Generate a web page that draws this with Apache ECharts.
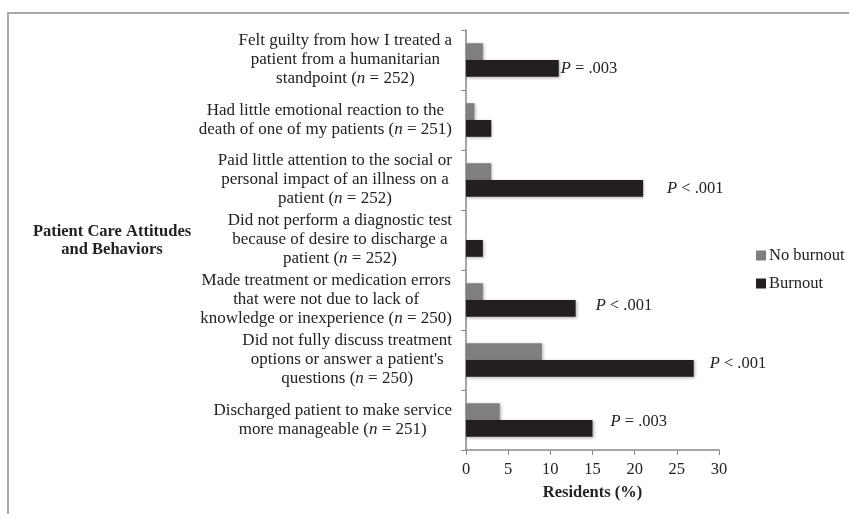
<!DOCTYPE html>
<html>
<head>
  <meta charset="UTF-8">
  <title>Patient care attitudes and behaviors</title>
  <script src="https://cdn.jsdelivr.net/npm/echarts@6/dist/echarts.min.js"></script>
  <style>
    * { margin: 0; padding: 0; }
    body { background: #fff; }
    #main { width: 849px; height: 514px; }
  </style>
</head>
<body>
  <div id="main"></div>
  <script>
    // categories, top to bottom (line breaks as in the original)
    var categories = [
      'Felt guilty from how I treated a\npatient from a humanitarian\nstandpoint (n = 252)',
      'Had little emotional reaction to the\ndeath of one of my patients (n = 251)',
      'Paid little attention to the social or\npersonal impact of an illness on a\npatient (n = 252)',
      'Did not perform a diagnostic test\nbecause of desire to discharge a\npatient (n = 252)',
      'Made treatment or medication errors\nthat were not due to lack of\nknowledge or inexperience (n = 250)',
      'Did not fully discuss treatment\noptions or answer a patient\'s\nquestions (n = 250)',
      'Discharged patient to make service\nmore manageable (n = 251)'
    ];
    var noBurnout = [2, 1, 3, 0, 2, 9, 4];
    var burnout = [11, 3, 21, 2, 13, 27, 15];
    var pValues = ['P = .003', '', 'P < .001', '', 'P < .001', 'P < .001', 'P = .003'];
    var xTicks = [0, 5, 10, 15, 20, 25, 30];

    // where the p-labels sit past the bar ends (px), style only
    var pGap = [2, 0, 24, 0, 20, 16, 18];
    var pLift = [0, 0, 0, 0, -3, -5, -7];

    var serif = '"Liberation Serif", "DejaVu Serif", serif';

    // each line centred inside a right-anchored block, n in italics
    function catLabel(v) {
      return v.split('\n').map(function (line) {
        return line.split(/(\(n = \d+\))/).filter(function (s) { return s !== ''; }).map(function (s) {
          var m = s.match(/^\(n = (\d+)\)$/);
          if (m) return '{c|(}{ci|n}{c| = ' + m[1] + ')}';
          return '{c|' + s + '}';
        }).join('');
      }).join('\n');
    }

    var burnoutData = burnout.map(function (v, i) {
      var p = pValues[i];
      return {
        value: v,
        label: {
          show: p !== '',
          distance: pGap[i],
          offset: [0, pLift[i]],
          formatter: p ? '{i|P}{t|' + p.slice(1) + '}' : ''
        }
      };
    });

    var chart = echarts.init(document.getElementById('main'));
    var option = {
      animation: false,
      backgroundColor: '#fff',
      color: ['#7f7f7f', '#231f20'],
      textStyle: { fontFamily: serif },
      grid: { left: 466, right: 130, top: 30, bottom: 64 },
      legend: {
        data: ['No burnout', 'Burnout'],
        orient: 'vertical',
        left: 751,
        top: 242,
        itemWidth: 10,
        itemHeight: 10,
        itemGap: 11,
        icon: 'rect',
        textStyle: { fontFamily: serif, fontSize: 16.5, color: '#222', padding: [0, 0, 0, -2] }
      },
      xAxis: {
        type: 'value',
        min: 0,
        max: 30,
        interval: 5,
        name: 'Residents (%)',
        nameLocation: 'middle',
        nameGap: 34,
        nameTextStyle: { fontFamily: serif, fontSize: 16.5, fontWeight: 'bold', color: '#222' },
        axisLine: { show: true, lineStyle: { color: '#888', width: 1.5 } },
        axisTick: { show: true, length: 5, lineStyle: { color: '#888' } },
        splitLine: { show: false },
        axisLabel: {
          margin: 11,
          fontFamily: serif,
          fontSize: 16.5,
          color: '#222',
          formatter: function (v) { return xTicks.indexOf(v) >= 0 ? String(v) : ''; }
        }
      },
      yAxis: {
        type: 'category',
        inverse: true,
        data: categories,
        axisLine: { show: true, lineStyle: { color: '#888', width: 1.5 } },
        axisTick: { show: true, length: 5, lineStyle: { color: '#888' } },
        axisLabel: {
          margin: 14,
          formatter: catLabel,
          lineHeight: 19,
          rich: {
            c: { align: 'center', fontFamily: serif, fontSize: 17, color: '#222', lineHeight: 19 },
            ci: { align: 'center', fontFamily: serif, fontSize: 17, fontStyle: 'italic', color: '#222', lineHeight: 19 }
          }
        }
      },
      series: [
        {
          name: 'No burnout',
          type: 'bar',
          data: noBurnout,
          barGap: '0%',
          barCategoryGap: '44%',
          itemStyle: { shadowBlur: 3, shadowOffsetX: 1, shadowOffsetY: 1, shadowColor: 'rgba(0,0,0,0.3)' }
        },
        {
          name: 'Burnout',
          type: 'bar',
          data: burnoutData,
          barGap: '0%',
          barCategoryGap: '44%',
          itemStyle: { shadowBlur: 3, shadowOffsetX: 1, shadowOffsetY: 1, shadowColor: 'rgba(0,0,0,0.3)' },
          label: {
            position: 'right',
            rich: {
              i: { fontFamily: serif, fontSize: 16.5, fontStyle: 'italic', color: '#222' },
              t: { fontFamily: serif, fontSize: 16.5, color: '#222' }
            }
          }
        }
      ],
      graphic: [
        {
          type: 'polyline',
          silent: true,
          shape: { points: [[8, 514], [8, 13], [849, 13]] },
          style: { stroke: '#a8a8a8', lineWidth: 2, fill: null }
        },
        {
          type: 'text',
          x: 112,
          y: 241,
          style: {
            text: 'Patient Care Attitudes\nand Behaviors',
            fontFamily: serif,
            fontSize: 16.5,
            fontWeight: 'bold',
            fill: '#222',
            align: 'center',
            verticalAlign: 'middle',
            lineHeight: 18
          }
        }
      ]
    };
    chart.setOption(option);
  </script>
</body>
</html>
